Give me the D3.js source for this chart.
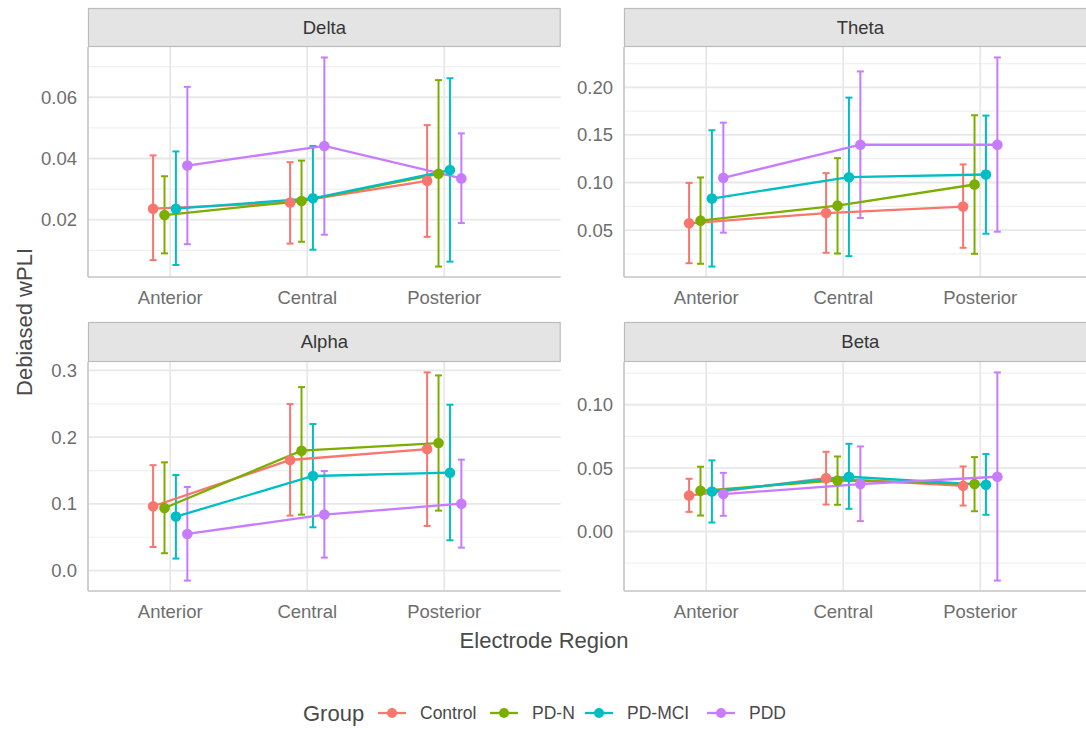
<!DOCTYPE html>
<html>
<head>
<meta charset="utf-8">
<script src="https://cdn.jsdelivr.net/npm/d3@7"></script>
<style>
  body { margin: 0; background: #fff; }
  svg { display: block; font-family: "Liberation Sans", Arial, Helvetica, sans-serif; }
</style>
</head>
<body>
<div id="chart"></div>
<script>
// Categories
var bands = ["Delta", "Theta", "Alpha", "Beta"];
var regions = ["Anterior", "Central", "Posterior"];
var groups = ["Control", "PD-N", "PD-MCI", "PDD"];

// Means, lower and upper error bar ends; one row per group, one column per region
var deltaMean = [[0.0236, 0.0256, 0.0327], [0.0215, 0.0261, 0.0350], [0.0236, 0.0270, 0.0362], [0.0377, 0.0441, 0.0335]];
var deltaLow  = [[0.0068, 0.0122, 0.0144], [0.0090, 0.0128, 0.0047], [0.0052, 0.0102, 0.0063], [0.0120, 0.0151, 0.0189]];
var deltaHigh = [[0.0410, 0.0388, 0.0509], [0.0342, 0.0393, 0.0656], [0.0423, 0.0441, 0.0662], [0.0634, 0.0730, 0.0482]];

var thetaMean = [[0.0571, 0.0679, 0.0747], [0.0599, 0.0757, 0.0979], [0.0831, 0.1056, 0.1084], [0.1049, 0.1397, 0.1397]];
var thetaLow  = [[0.0152, 0.0262, 0.0314], [0.0146, 0.0254, 0.0251], [0.0117, 0.0226, 0.0462], [0.0473, 0.0627, 0.0483]];
var thetaHigh = [[0.0996, 0.1098, 0.1190], [0.1053, 0.1256, 0.1707], [0.1549, 0.1892, 0.1703], [0.1629, 0.2167, 0.2314]];

var alphaMean = [[0.0964, 0.1658, 0.1822], [0.0939, 0.1797, 0.1912], [0.0809, 0.1418, 0.1468], [0.0549, 0.0839, 0.1003]];
var alphaLow  = [[0.0354, 0.0824, 0.0669], [0.0260, 0.0839, 0.0899], [0.0180, 0.0649, 0.0454], [-0.0150, 0.0195, 0.0344]];
var alphaHigh = [[0.1580, 0.2496, 0.2971], [0.1623, 0.2751, 0.2926], [0.1433, 0.2197, 0.2486], [0.1253, 0.1493, 0.1663]];

var betaMean = [[0.0284, 0.0421, 0.0361], [0.0321, 0.0403, 0.0374], [0.0316, 0.0432, 0.0368], [0.0295, 0.0374, 0.0432]];
var betaLow  = [[0.0155, 0.0213, 0.0205], [0.0126, 0.0211, 0.0160], [0.0071, 0.0179, 0.0132], [0.0124, 0.0082, -0.0387]];
var betaHigh = [[0.0416, 0.0629, 0.0513], [0.0511, 0.0592, 0.0587], [0.0561, 0.0692, 0.0611], [0.0463, 0.0671, 0.1255]];

// Y tick values per panel
var deltaTicks = [0.02, 0.04, 0.06];
var thetaTicks = [0.05, 0.10, 0.15, 0.20];
var alphaTicks = [0.0, 0.1, 0.2, 0.3];
var betaTicks = [0.00, 0.05, 0.10];

var bandData = {
  Delta: { mean: deltaMean, low: deltaLow, high: deltaHigh, ticks: deltaTicks },
  Theta: { mean: thetaMean, low: thetaLow, high: thetaHigh, ticks: thetaTicks },
  Alpha: { mean: alphaMean, low: alphaLow, high: alphaHigh, ticks: alphaTicks },
  Beta:  { mean: betaMean,  low: betaLow,  high: betaHigh,  ticks: betaTicks }
};

var colors = d3.scaleOrdinal().domain(groups).range(["#F8766D", "#7CAE00", "#00BFC4", "#C77CFF"]);

var W = 1086, H = 733;
var panelW = 472.7;
var panelLayout = [
  { x: 88,  stripTop: 8,   top: 47,  bottom: 277 },
  { x: 624, stripTop: 8,   top: 47,  bottom: 277 },
  { x: 88,  stripTop: 322, top: 362, bottom: 591 },
  { x: 624, stripTop: 322, top: 362, bottom: 591 }
];

var svg = d3.select("#chart").append("svg")
  .attr("width", W).attr("height", H);

// Shared x scale over region index (with dodge)
var x = d3.scaleLinear().domain([0.4, 3.85]).range([0, panelW]);
var dodgeWidth = 1 / 3;
function dodge(gi) { return (gi - (groups.length - 1) / 2) * dodgeWidth / groups.length; }

bands.forEach(function (band, bi) {
  var L = panelLayout[bi];
  var d = bandData[band];
  var h = L.bottom - L.top;

  var allVals = d3.merge(d.low.concat(d.high));
  var ext = d3.extent(allVals);
  var pad = (ext[1] - ext[0]) * 0.05;
  var y = d3.scaleLinear().domain([ext[0] - pad, ext[1] + pad]).range([h, 0]);

  var g = svg.append("g").attr("transform", "translate(" + L.x + "," + L.top + ")");

  // Minor grid lines
  var step = d.ticks[1] - d.ticks[0];
  var minor = [];
  for (var i = -1; i < d.ticks.length; i++) {
    var m = d.ticks[0] + step * i + step / 2;
    if (m > y.domain()[0] && m < y.domain()[1]) minor.push(m);
  }
  g.selectAll(".minor").data(minor).enter().append("line")
    .attr("x1", 0).attr("x2", panelW)
    .attr("y1", function (v) { return y(v); }).attr("y2", function (v) { return y(v); })
    .attr("stroke", "#f0f0f0").attr("stroke-width", 1.2);

  // Major grid lines
  g.selectAll(".majorY").data(d.ticks).enter().append("line")
    .attr("x1", 0).attr("x2", panelW)
    .attr("y1", function (v) { return y(v); }).attr("y2", function (v) { return y(v); })
    .attr("stroke", "#e8e8e8").attr("stroke-width", 1.8);
  g.selectAll(".majorX").data(regions).enter().append("line")
    .attr("x1", function (r, ri) { return x(ri + 1); }).attr("x2", function (r, ri) { return x(ri + 1); })
    .attr("y1", 0).attr("y2", h)
    .attr("stroke", "#e8e8e8").attr("stroke-width", 1.8);

  // Axis lines (left and bottom)
  g.append("line").attr("x1", 0).attr("x2", 0).attr("y1", 0).attr("y2", h)
    .attr("stroke", "#c4c4c4").attr("stroke-width", 1.6);
  g.append("line").attr("x1", 0).attr("x2", panelW).attr("y1", h).attr("y2", h)
    .attr("stroke", "#c4c4c4").attr("stroke-width", 1.6);

  // Y tick labels
  var fmt = d3.format("." + d3.precisionFixed(step) + "f");
  g.selectAll(".ytick").data(d.ticks).enter().append("text")
    .attr("x", -11).attr("y", function (v) { return y(v); })
    .attr("dy", "0.35em").attr("text-anchor", "end")
    .style("font-size", "18.5px").style("fill", "#6e6e6e")
    .text(function (v) { return fmt(v); });

  // X tick labels
  g.selectAll(".xtick").data(regions).enter().append("text")
    .attr("x", function (r, ri) { return x(ri + 1); }).attr("y", h + 26.5)
    .attr("text-anchor", "middle")
    .style("font-size", "18.5px").style("fill", "#6e6e6e")
    .text(function (r) { return r; });

  // Strip
  svg.append("rect")
    .attr("x", L.x + 0.5).attr("y", L.stripTop + 0.5)
    .attr("width", panelW - 1).attr("height", L.top - L.stripTop - 1)
    .attr("fill", "#e4e4e4").attr("stroke", "#bcbcbc").attr("stroke-width", 1.2);
  svg.append("text")
    .attr("x", L.x + panelW / 2).attr("y", (L.stripTop + L.top) / 2)
    .attr("dy", "0.35em").attr("text-anchor", "middle")
    .style("font-size", "18.5px").style("fill", "#363636")
    .text(band);

  // Error bars
  groups.forEach(function (grp, gi) {
    var col = colors(grp);
    regions.forEach(function (r, ri) {
      var cx = x(ri + 1 + dodge(gi));
      var lo = y(d.low[gi][ri]), hi = y(d.high[gi][ri]);
      g.append("line").attr("x1", cx).attr("x2", cx).attr("y1", lo).attr("y2", hi)
        .attr("stroke", col).attr("stroke-width", 2);
      [lo, hi].forEach(function (yy) {
        g.append("line").attr("x1", cx - 3.5).attr("x2", cx + 3.5).attr("y1", yy).attr("y2", yy)
          .attr("stroke", col).attr("stroke-width", 2);
      });
    });
  });

  // Lines
  groups.forEach(function (grp, gi) {
    g.append("path")
      .datum(d.mean[gi])
      .attr("fill", "none")
      .attr("stroke", colors(grp))
      .attr("stroke-width", 2.3)
      .attr("d", d3.line()
        .x(function (v, ri) { return x(ri + 1 + dodge(gi)); })
        .y(function (v) { return y(v); }));
  });

  // Points
  groups.forEach(function (grp, gi) {
    g.selectAll(".pt" + gi).data(d.mean[gi]).enter().append("circle")
      .attr("cx", function (v, ri) { return x(ri + 1 + dodge(gi)); })
      .attr("cy", function (v) { return y(v); })
      .attr("r", 5.3)
      .attr("fill", colors(grp));
  });
});

// Axis titles
svg.append("text")
  .attr("x", 544).attr("y", 648)
  .attr("text-anchor", "middle")
  .style("font-size", "22px").style("fill", "#4a4a4a")
  .text("Electrode Region");

svg.append("text")
  .attr("transform", "translate(32,322) rotate(-90)")
  .attr("text-anchor", "middle")
  .style("font-size", "22px").style("fill", "#4a4a4a")
  .text("Debiased wPLI");

// Legend
var legendY = 713;
svg.append("text")
  .attr("x", 303).attr("y", legendY).attr("dy", "0.35em")
  .style("font-size", "22px").style("fill", "#4a4a4a")
  .text("Group");

var keyX = [378, 490, 585, 707];
groups.forEach(function (grp, gi) {
  var kx = keyX[gi];
  svg.append("line").attr("x1", kx).attr("x2", kx + 28).attr("y1", legendY).attr("y2", legendY)
    .attr("stroke", colors(grp)).attr("stroke-width", 2.3);
  svg.append("circle").attr("cx", kx + 14).attr("cy", legendY).attr("r", 5)
    .attr("fill", colors(grp));
  svg.append("text")
    .attr("x", kx + 42).attr("y", legendY).attr("dy", "0.35em")
    .style("font-size", "17.5px").style("fill", "#4a4a4a")
    .text(grp);
});
</script>
</body>
</html>
